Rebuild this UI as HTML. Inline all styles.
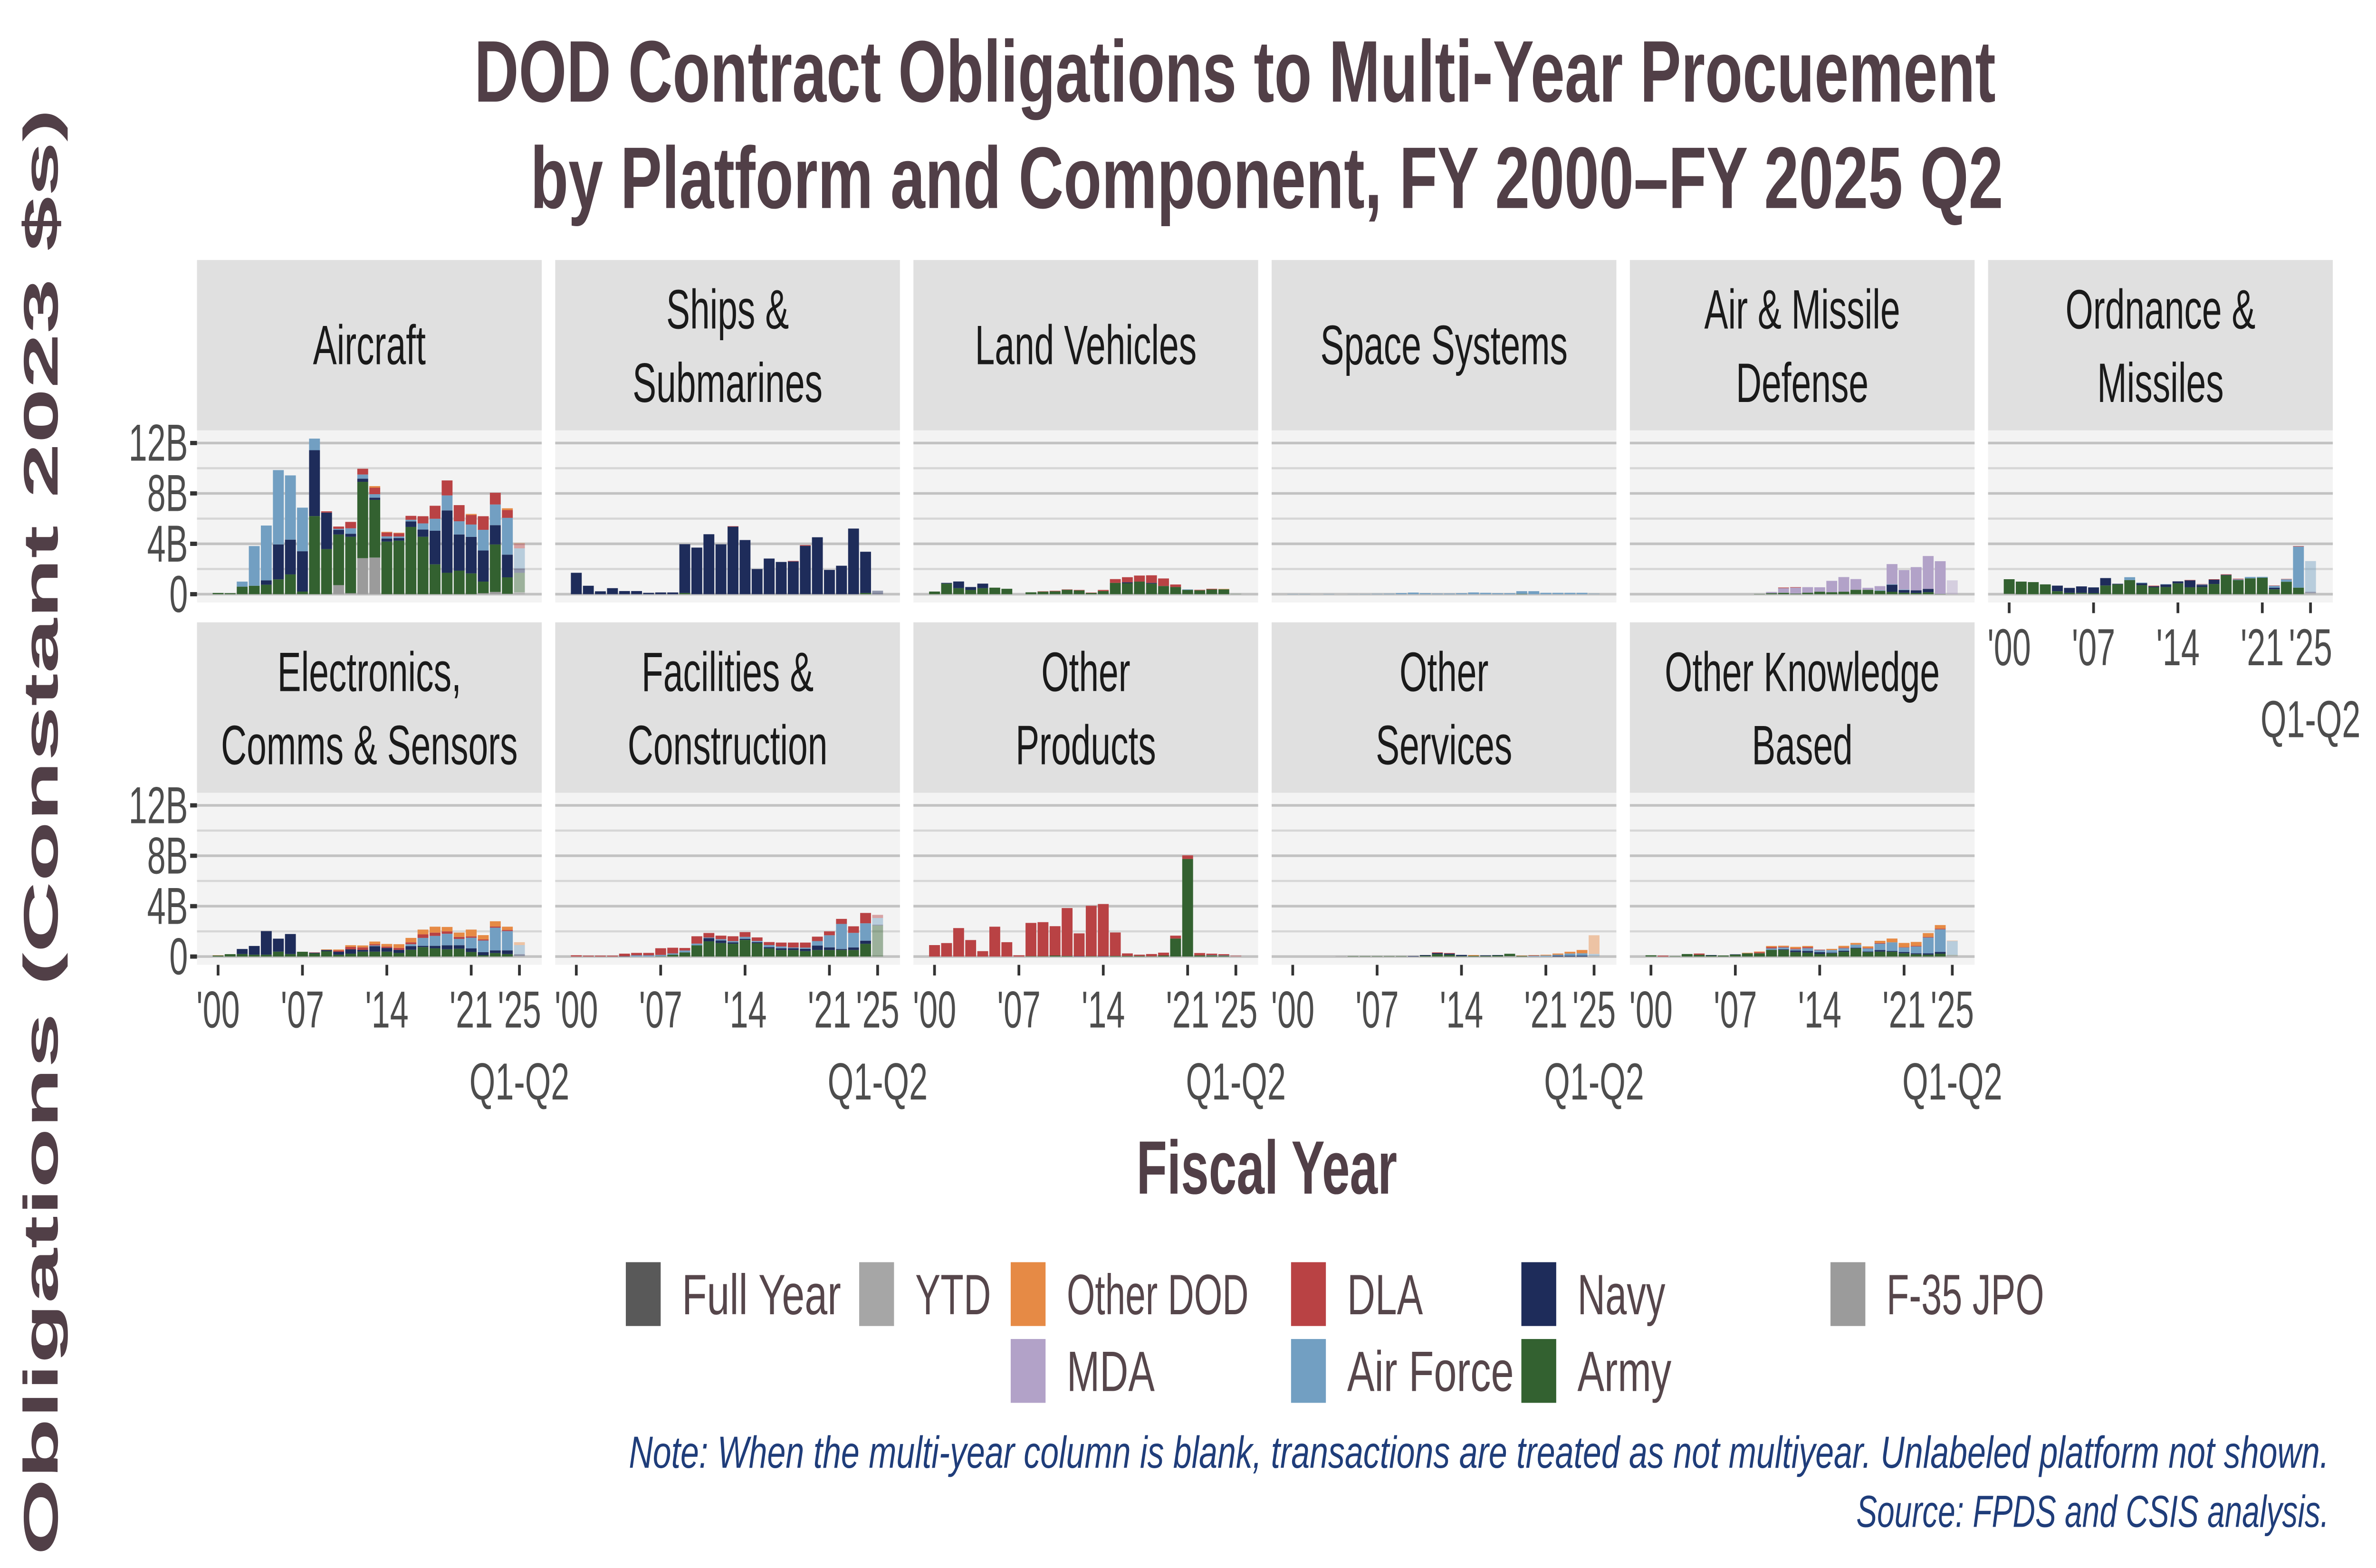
<!DOCTYPE html>
<html><head><meta charset="utf-8"><title>DOD Multi-Year Procurement</title>
<style>
html,body{margin:0;padding:0;background:#fff;width:100%;height:100%;overflow:hidden;}
svg{display:block;width:100vw;height:100vh;}
text{font-family:"Liberation Sans",sans-serif;}
</style></head>
<body>
<svg id="chart" xmlns="http://www.w3.org/2000/svg" viewBox="0 0 1568 663.38" preserveAspectRatio="none">
<rect x="0" y="0" width="1568" height="663.38" fill="#ffffff"/>
<text x="815" y="43" text-anchor="middle" font-size="37" font-weight="bold" fill="#513f47" textLength="1004" lengthAdjust="spacingAndGlyphs">DOD Contract Obligations to Multi-Year Procuement</text>
<text x="836" y="88" text-anchor="middle" font-size="37" font-weight="bold" fill="#513f47" textLength="972" lengthAdjust="spacingAndGlyphs">by Platform and Component, FY 2000–FY 2025 Q2</text>
<text x="0" y="0" transform="translate(38,352) rotate(-90)" text-anchor="middle" font-size="32" font-weight="bold" fill="#513f47" textLength="612" lengthAdjust="spacingAndGlyphs">Obligations (Constant 2023 $s)</text>
<text x="836" y="505" text-anchor="middle" font-size="32" font-weight="bold" fill="#513f47" textLength="172" lengthAdjust="spacingAndGlyphs">Fiscal Year</text>
<g id="panels"></g>
<g id="legend"></g>
<text x="1537" y="621" text-anchor="end" font-size="19" font-style="italic" fill="#1f3d7a" textLength="1122" lengthAdjust="spacingAndGlyphs">Note: When the multi-year column is blank, transactions are treated as not multiyear. Unlabeled platform not shown.</text>
<text x="1537" y="646" text-anchor="end" font-size="19" font-style="italic" fill="#1f3d7a" textLength="312" lengthAdjust="spacingAndGlyphs">Source: FPDS and CSIS analysis.</text>
</svg>
<script>
const years = [2000,2001,2002,2003,2004,2005,2006,2007,2008,2009,2010,2011,2012,2013,2014,2015,2016,2017,2018,2019,2020,2021,2022,2023,2024,2025];
const ytdYear = 2025;
const yTickValues = [0,4,8,12];
const yTickLabels = ["0","4B","8B","12B"];
const xTickYears = [2000,2007,2014,2021,2025];
const xTickLabels = ["'00","'07","'14","'21","'25"];
const componentNames = ["F-35 JPO","Army","Navy","Air Force","MDA","DLA","Other DOD"];
const componentColors = ["#9b9b9b","#336130","#1e2c5a","#729fc2","#b2a2c8","#b94244","#e68a45"];

const aircraftF35 = [0,0,0,0,0,0,0,0,0,0,.72,.08,2.86,2.91,0,0,0,0,0,0,0,0,.08,.18,.03,.15];
const aircraftArmy = [.1,.08,.6,.67,.75,1.18,1.57,.21,6.2,3.58,4.02,4.48,6.06,4.58,4.18,4.25,5.34,4.56,2.37,1.7,1.87,1.65,.92,3.77,1.31,1.55];
const aircraftNavy = [0,0,0,0,.35,2.77,2.76,3.2,5.23,2.9,.37,.24,.25,.17,.24,.21,.44,.57,2.67,4.95,2.87,2.9,2.47,1.53,1.8,.34];
const aircraftAirForce = [0,0,.4,3.15,4.35,5.9,5.1,3.46,.92,0,.08,.43,.33,.28,.17,.12,.13,.49,.95,1.19,1.05,.98,1.64,1.64,2.92,1.6];
const aircraftDLA = [0,0,0,0,0,0,0,0,0,.1,.18,.51,.46,.51,.31,.26,.31,.57,1.03,1.19,1.28,.76,1.08,.93,.62,.38];
const aircraftOther = [0,0,0,0,0,0,0,0,0,0,0,0,0,.13,.05,.04,0,0,0,0,0,.08,0,0,.14,.05];

const shipsArmy = [0,0,0,0,0,0,0,0,0,.1,0,0,0,0,0,0,0,0,0,0,0,0,0,0,.1,0];
const shipsNavy = [1.7,.67,.23,.48,.25,.25,.11,.14,.14,3.87,3.7,4.76,3.96,5.36,4.3,2.0,2.83,2.56,2.6,3.84,4.52,1.93,2.26,5.21,3.27,.28];
const shipsDLA = [0,0,0,0,0,0,0,0,0,0,0,0,0,.04,0,0,0,0,.04,.06,0,0,0,0,0,0];

const landArmy = [.21,.84,.48,.34,.48,.52,.43,0,.15,.2,.23,.35,.3,.1,.25,.9,.87,1.0,.84,.65,.57,.34,.31,.38,.39,.03];
const landNavy = [0,.06,.53,.23,.36,0,0,0,0,0,0,0,0,0,0,0,.08,0,.06,0,0,0,0,0,0,0];
const landAirForce = [0,0,0,0,0,0,0,0,0,0,0,0,0,0,0,0,0,0,0,0,0,.04,0,0,0,0];
const landDLA = [0,0,0,0,0,0,0,0,0,.03,.04,.03,.04,.03,.09,.3,.4,.48,.6,.6,.2,0,.04,.05,0,0];
const landOther = [0,0,0,0,0,0,0,0,0,0,0,0,0,0,0,0,0,0,0,0,0,0,0,0,.03,0];

const spaceArmy = [0,0,0,0,0,0,0,0,0,0,0,0,0,0,0,0,0,0,0,.03,0,0,0,0,0,0];
const spaceAirForce = [.02,.02,0,.02,0,.01,.02,.03,.04,.09,.13,.08,.05,.05,.08,.14,.11,.08,.08,.21,.24,.11,.11,.11,.11,.06];

const amdArmy = [0,0,0,0,0,0,0,0,0,.02,.08,.11,.05,.12,.2,.16,.2,.35,.35,.27,.19,.12,.1,.16,.02,0];
const amdNavy = [0,0,0,0,0,0,0,0,0,0,0,0,0,0,0,0,0,0,0,0,.56,.21,.21,.26,0,0];
const amdAirForce = [0,0,0,0,0,0,0,0,0,0,0,0,0,0,0,0,0,0,0,.04,.04,.04,0,0,0,0];
const amdMDA = [0,0,0,0,0,0,0,0,0,0,.1,.37,.47,.44,.35,.9,1.16,.85,.16,.33,1.6,1.54,1.84,2.61,2.6,1.1];
const amdDLA = [0,0,0,0,0,0,0,0,0,0,0,.05,.04,0,0,0,0,0,0,0,0,0,0,0,0,0];

const ordF35 = [.03,0,0,0,0,0,.03,0,0,0,0,0,0,0,0,0,0,0,0,0,0,0,0,0,0,.1];
const ordArmy = [1.16,1.0,.96,.78,.24,.11,.08,.08,.69,.78,1.12,.72,.55,.57,.86,.55,.57,.81,1.5,1.12,1.26,1.31,.39,.99,.52,0];
const ordNavy = [0,0,0,0,.44,.39,.51,.46,.59,.05,0,.15,.08,.2,.16,.55,.16,.34,.04,0,0,0,.12,0,0,.09];
const ordAirForce = [0,0,0,0,0,0,0,0,0,0,.23,.05,0,.03,0,0,.05,0,0,.06,.11,.07,.15,.19,3.26,2.44];
const ordDLA = [0,0,0,0,0,0,0,0,0,0,0,0,.05,0,0,.03,.03,.04,.04,.05,0,0,.03,.03,.04,0];

const elecF35 = [0,0,0,0,0,0,0,0,0,0,0,0,0,0,0,0,0,0,0,0,0,0,0,0,0,.06];
const elecArmy = [.08,.19,.2,.15,.15,.39,.2,.38,.25,.42,.15,.23,.39,.39,.39,.29,.54,.75,.65,.58,.62,.36,.1,.28,.2,0];
const elecNavy = [0,0,.4,.69,1.87,1.03,1.59,0,.05,.1,.23,.34,.14,.43,.29,.24,.29,.1,.2,.31,.28,.29,.25,.21,.29,.13];
const elecAirForce = [0,0,0,0,0,0,0,0,0,0,0,0,0,.06,0,0,.15,.63,.79,.92,.5,.84,.92,1.8,1.53,.72];
const elecDLA = [0,0,0,0,0,0,0,0,.03,0,.1,.19,.2,.1,.11,.16,.15,.28,.26,.19,.16,.11,.09,.09,.09,0];
const elecOther = [.02,0,0,0,0,0,0,0,0,.05,.08,.14,.15,.21,.21,.29,.35,.38,.47,.35,.34,.54,.34,.42,.26,.23];

const facArmy = [0,0,0,0,0,0,0,.03,.15,.33,.89,1.21,1.07,1.02,1.32,1.06,.65,.52,.52,.43,.52,.52,.52,.52,1.01,2.47];
const facNavy = [0,0,0,0,.03,0,0,0,0,0,0,.25,.21,.11,.09,.08,.1,.14,.14,.18,.35,.21,.08,.2,.25,.06];
const facAirForce = [0,0,0,0,0,.1,.1,.1,.1,.15,.14,.05,.1,.1,.15,.1,.16,.14,.06,.1,.36,.96,1.99,1.16,1.38,.53];
const facDLA = [.1,.07,.07,.07,.2,.19,.19,.53,.45,.2,.58,.36,.28,.38,.38,.28,.24,.31,.39,.4,.35,.31,.4,.52,.82,.25];

const prodArmy = [0,0,0,0,0,0,0,0,.03,.03,.08,.05,0,.03,0,.05,.05,.05,.03,.08,1.43,7.75,.09,.08,.06,0];
const prodNavy = [0,0,0,0,0,0,0,0,0,0,0,0,.03,0,.03,0,0,0,0,0,0,0,0,0,0,0];
const prodAirForce = [0,0,0,0,0,0,0,0,0,0,0,0,0,0,0,0,0,0,0,0,0,0,0,.03,.03,0];
const prodDLA = [.91,1.07,2.26,1.31,.43,2.37,1.14,.1,2.64,2.7,2.33,3.8,1.81,4.0,4.14,1.86,.2,.1,.17,.23,.23,.28,.19,.12,.1,.09];

const svcF35 = [0,0,0,0,.02,0,0,0,0,0,0,0,0,0,0,0,0,0,.03,0,0,0,0,0,0,.05];
const svcArmy = [0,0,0,0,0,.03,.03,.03,.03,.03,0,.06,.19,.14,.04,.06,.05,.08,.19,.05,0,0,0,0,0,0];
const svcNavy = [0,0,0,0,0,0,0,0,0,0,.04,.06,.08,.09,.09,0,.05,.04,0,0,0,0,.06,.06,.07,0];
const svcAirForce = [0,0,0,0,0,0,0,0,0,0,0,0,0,0,0,0,0,0,0,0,.06,.08,.08,.18,.19,.16];
const svcDLA = [0,0,0,0,0,0,0,0,0,0,0,0,.06,.05,0,0,0,0,0,0,.03,0,0,0,0,0];
const svcOther = [0,0,0,0,0,0,0,0,0,0,0,0,0,0,0,.06,0,0,0,.03,.03,.06,.1,.14,.26,1.48];

const okbF35 = [0,0,0,0,0,0,0,0,0,0,0,0,0,0,0,0,0,0,0,0,0,0,0,0,0,.1];
const okbArmy = [.1,0,.03,.2,.14,.08,.08,.15,.26,.26,.53,.53,.35,.31,.21,.26,.38,.65,.35,.39,.38,.26,.18,.15,.23,.03];
const okbNavy = [0,0,0,0,0,.04,0,.03,0,0,0,.05,.13,.14,.14,.05,.08,.05,.05,.13,.06,.1,.08,.1,.14,0];
const okbAirForce = [0,0,0,0,0,0,0,0,0,0,.12,.14,.1,.21,.16,.21,.2,.24,.24,.5,.69,.36,.54,1.26,1.79,1.1];
const okbDLA = [0,.07,0,0,.1,0,0,0,0,.08,.09,.05,.06,.09,.04,0,.05,0,.04,.05,0,.03,.05,.05,.06,0];
const okbOther = [0,0,0,0,0,0,0,0,.04,.06,.1,.09,.13,.09,0,.09,.14,.14,.13,.18,.3,.33,.31,.3,.28,.04];

const Z = years.map(() => 0);
const panelDefs = [
  {name:"aircraft", lines:["Aircraft"], row:0, col:0, series:[aircraftF35,aircraftArmy,aircraftNavy,aircraftAirForce,Z,aircraftDLA,aircraftOther]},
  {name:"ships-and-submarines", lines:["Ships &","Submarines"], row:0, col:1, series:[Z,shipsArmy,shipsNavy,Z,Z,shipsDLA,Z]},
  {name:"land-vehicles", lines:["Land Vehicles"], row:0, col:2, series:[Z,landArmy,landNavy,landAirForce,Z,landDLA,landOther]},
  {name:"space-systems", lines:["Space Systems"], row:0, col:3, series:[Z,spaceArmy,Z,spaceAirForce,Z,Z,Z]},
  {name:"air-and-missile-defense", lines:["Air & Missile","Defense"], row:0, col:4, series:[Z,amdArmy,amdNavy,amdAirForce,amdMDA,amdDLA,Z]},
  {name:"ordnance-and-missiles", lines:["Ordnance &","Missiles"], row:0, col:5, series:[ordF35,ordArmy,ordNavy,ordAirForce,Z,ordDLA,Z], xaxis:true},
  {name:"electronics-comms-sensors", lines:["Electronics,","Comms & Sensors"], row:1, col:0, series:[elecF35,elecArmy,elecNavy,elecAirForce,Z,elecDLA,elecOther], xaxis:true},
  {name:"facilities-and-construction", lines:["Facilities &","Construction"], row:1, col:1, series:[Z,facArmy,facNavy,facAirForce,Z,facDLA,Z], xaxis:true},
  {name:"other-products", lines:["Other","Products"], row:1, col:2, series:[Z,prodArmy,prodNavy,prodAirForce,Z,prodDLA,Z], xaxis:true},
  {name:"other-services", lines:["Other","Services"], row:1, col:3, series:[svcF35,svcArmy,svcNavy,svcAirForce,Z,svcDLA,svcOther], xaxis:true},
  {name:"other-knowledge-based", lines:["Other Knowledge","Based"], row:1, col:4, series:[okbF35,okbArmy,okbNavy,okbAirForce,Z,okbDLA,okbOther], xaxis:true}
];

const NS = "http://www.w3.org/2000/svg";
function mk(tag, attrs, parent){
  const e = document.createElementNS(NS, tag);
  for (const k in attrs) e.setAttribute(k, attrs[k]);
  parent.appendChild(e);
  return e;
}
const panelW = 227.5, colStep = 236.4, left0 = 130;
const rowStripTop = [110, 263.3];
const stripH = 72.1, plotH = 72.8;
const pxPerB = 5.33;
const yDomainTop = 13.0;
const xMin = 1998.25, xMax = 2026.85;
const root = document.getElementById("panels");

panelDefs.forEach(p => {
  const g = mk("g", {}, root);
  
  
  const px = left0 + p.col * colStep;
  const sTop = rowStripTop[p.row];
  const pTop = sTop + stripH;
  const base = pTop + yDomainTop * pxPerB;
  const xs = yr => px + (yr - xMin) / (xMax - xMin) * panelW;
  const ys = v => base - v * pxPerB;
  const bw = 0.9 * panelW / (xMax - xMin);
  const strip = mk("rect", {x:px, y:sTop, width:panelW, height:stripH, fill:"#e0e0e0"}, g);
  
  
  const cx = px + panelW/2, cy = sTop + stripH/2;
  p.lines.forEach((ln, i) => {
    const t = mk("text", {x:cx, y: p.lines.length === 1 ? cy + 8 : (i === 0 ? cy - 7 : cy + 24), "text-anchor":"middle", "font-size":"23.5", fill:"#1a1a1a"}, g);
    t.textContent = ln;
    
    
  });
  const bg = mk("rect", {x:px, y:pTop, width:panelW, height:plotH, fill:"#f3f3f3"}, g);
  
  
  [2,6,10].forEach(v => {
    const l = mk("line", {x1:px, x2:px+panelW, y1:ys(v), y2:ys(v), stroke:"#d6d6d6", "stroke-width":"0.9"}, g);
    
    
  });
  yTickValues.forEach(v => {
    const l = mk("line", {x1:px, x2:px+panelW, y1:ys(v), y2:ys(v), stroke:"#c2c2c2", "stroke-width":"1.1"}, g);
    
    
  });
  years.forEach((yr, i) => {
    let acc = 0;
    const faded = yr === ytdYear;
    p.series.forEach((arr, s) => {
      const v = arr[i];
      if (!v) return;
      const r = mk("rect", {x:xs(yr) - bw/2, y:ys(acc+v), width:bw, height:v*pxPerB, fill:componentColors[s], opacity: faded ? 0.45 : 1}, g);
      
      
      acc += v;
    });
  });
  if (p.col === 0) {
    yTickValues.forEach((v, k) => {
      const tk = mk("line", {x1:px-4.5, x2:px, y1:ys(v), y2:ys(v), stroke:"#333", "stroke-width":"1.8"}, g);
      
      
      const t = mk("text", {x:px-6, y:ys(v)+7.5, "text-anchor":"end", "font-size":"22", fill:"#4d4d4d"}, g);
      t.textContent = yTickLabels[k];
      
      
    });
  }
  if (p.xaxis) {
    const pb = pTop + plotH;
    xTickYears.forEach((yr, k) => {
      const tk = mk("line", {x1:xs(yr), x2:xs(yr), y1:pb, y2:pb+4.5, stroke:"#333", "stroke-width":"1.8"}, g);
      
      
      const t = mk("text", {x:xs(yr), y:pb+26.5, "text-anchor":"middle", "font-size":"22", fill:"#4d4d4d"}, g);
      t.textContent = xTickLabels[k];
      
      
      if (yr === ytdYear) {
        const q = mk("text", {x:xs(yr), y:pb+57, "text-anchor":"middle", "font-size":"22", fill:"#4d4d4d"}, g);
        q.textContent = "Q1-Q2";
        
        
      }
    });
  }
});

const legendItems = [
  {label:"Full Year", color:"#595959", x:413, row:0, w:105},
  {label:"YTD", color:"#a6a6a6", x:567, row:0, w:50},
  {label:"Other DOD", color:"#e68a45", x:667, row:0, w:120},
  {label:"DLA", color:"#b94244", x:852, row:0, w:50},
  {label:"Navy", color:"#1e2c5a", x:1004, row:0, w:58},
  {label:"F-35 JPO", color:"#9b9b9b", x:1208, row:0, w:104},
  {label:"MDA", color:"#b2a2c8", x:667, row:1, w:58},
  {label:"Air Force", color:"#729fc2", x:852, row:1, w:110},
  {label:"Army", color:"#336130", x:1004, row:1, w:62}
];
const lg = document.getElementById("legend");
legendItems.forEach(it => {
  const y0 = 533 + it.row * 32.5;
  const g = mk("g", {}, lg);
  
  
  const s = mk("rect", {x:it.x, y:y0+1, width:23, height:27, fill:it.color}, g);
  
  
  const t = mk("text", {x:it.x+37, y:y0+23, "font-size":"24", fill:"#56464b", textLength:it.w, lengthAdjust:"spacingAndGlyphs"}, g);
  t.textContent = it.label;
  
  
});
</script>
</body></html>
